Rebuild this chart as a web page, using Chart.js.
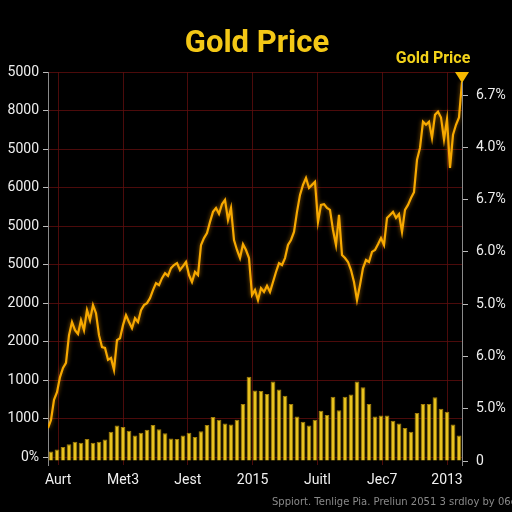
<!DOCTYPE html>
<html>
<head>
<meta charset="utf-8">
<script src="https://cdn.jsdelivr.net/npm/chart.js@4.4.0/dist/chart.umd.min.js"></script>
<style>
  html, body { margin: 0; padding: 0; background: #000; }
  #wrap { width: 512px; height: 512px; }
</style>
</head>
<body>
<div id="wrap"><canvas id="goldChart" width="512" height="512"></canvas></div>
<script>
// tick labels as printed on the chart
var leftLabels = ['0%', '1000', '1000', '2000', '2000', '5000', '5000', '6000', '5000', '8000', '5000'];
var rightLabels = ['0', '5.0%', '6.0%', '5.0%', '6.0%', '6.7%', '4.0%', '6.7%'];
var xLabels = ['Aurt', 'Met3', 'Jest', '2015', 'Juitl', 'Jec7', '2013'];

// price line, one value every half bar
var priceValues = [
  0.76, 0.97, 1.49, 1.69, 2.08, 2.32, 2.45, 3.17, 3.51, 3.30, 3.20, 3.56, 3.30, 3.82, 3.56, 3.95,
  3.74, 3.17, 2.86, 2.84, 2.53, 2.58, 2.27, 3.04, 3.09, 3.43, 3.69, 3.51, 3.35, 3.61, 3.51, 3.82,
  3.95, 4.00, 4.13, 4.34, 4.52, 4.47, 4.65, 4.78, 4.71, 4.91, 4.99, 5.04, 4.86, 4.96, 5.07, 4.73,
  4.55, 4.81, 4.73, 5.51, 5.69, 5.82, 6.11, 6.37, 6.47, 6.32, 6.57, 6.68, 6.16, 6.47, 5.64, 5.38,
  5.17, 5.53, 5.38, 5.17, 4.21, 4.34, 4.08, 4.39, 4.29, 4.45, 4.29, 4.55, 4.81, 5.04, 4.99, 5.17,
  5.51, 5.64, 5.85, 6.37, 6.81, 7.07, 7.25, 6.99, 7.07, 7.15, 6.11, 6.55, 6.57, 6.47, 6.42, 5.90,
  5.51, 6.29, 5.25, 5.17, 5.07, 4.86, 4.55, 4.08, 4.47, 4.91, 5.12, 5.07, 5.33, 5.38, 5.53, 5.69,
  5.51, 6.21, 6.29, 6.37, 6.21, 6.31, 5.85, 6.42, 6.55, 6.73, 6.88, 7.72, 8.03, 8.71, 8.63, 8.71,
  8.29, 8.89, 8.97, 8.82, 8.25, 8.77, 7.51, 8.37, 8.63, 8.82, 9.74
];

// volume bars (right axis)
var barValues = [
  0.18, 0.22, 0.27, 0.32, 0.37, 0.35, 0.42, 0.35, 0.37, 0.41, 0.56, 0.68, 0.65, 0.58, 0.49, 0.54,
  0.60, 0.69, 0.61, 0.53, 0.43, 0.42, 0.49, 0.54, 0.46, 0.57, 0.69, 0.84, 0.79, 0.72, 0.70, 0.79,
  1.09, 1.61, 1.35, 1.34, 1.28, 1.52, 1.37, 1.25, 1.09, 0.85, 0.75, 0.68, 0.79, 0.96, 0.88, 1.23,
  0.97, 1.23, 1.27, 1.52, 1.41, 1.09, 0.85, 0.87, 0.87, 0.77, 0.72, 0.63, 0.56, 0.92, 1.09, 1.09,
  1.22, 1.00, 0.94, 0.70, 0.49
];

var linePoints = priceValues.map(function(v, i) { return { x: -0.5 + i * 0.5, y: v }; });
var barPoints = barValues.map(function(v, i) { return { x: i, y: v }; });

var gridRed = 'rgba(95, 14, 14, 0.8)';

var extras = {
  id: 'extras',
  beforeDraw: function(chart) {
    var c = chart.ctx;
    c.save();
    c.fillStyle = '#000';
    c.fillRect(0, 0, chart.width, chart.height);
    c.restore();
  },
  beforeDatasetDraw: function(chart, args) {
    if (args.meta.type === 'line') {
      chart.ctx.save();
      chart.ctx.shadowColor = 'rgba(255, 160, 0, 0.6)';
      chart.ctx.shadowBlur = 4;
    }
  },
  afterDatasetDraw: function(chart, args) {
    if (args.meta.type === 'line') chart.ctx.restore();
  },
  afterDraw: function(chart) {
    var c = chart.ctx;
    var area = chart.chartArea;
    c.save();
    // title
    c.fillStyle = '#f4c816';
    c.font = 'bold 31px Roboto, "Open Sans", sans-serif';
    c.textAlign = 'center';
    c.textBaseline = 'middle';
    c.fillText('Gold Price', 257, 44);
    // marker label + arrow
    c.font = 'bold 16px Roboto, "Open Sans", sans-serif';
    c.fillStyle = '#f2d21a';
    c.fillText('Gold Price', 433, 59);
    c.fillStyle = '#f5b800';
    c.beginPath();
    c.moveTo(area.right - 7, area.top);
    c.lineTo(area.right + 7, area.top);
    c.lineTo(area.right, area.top + 11);
    c.closePath();
    c.fill();
    // source note
    c.font = '10px "DejaVu Sans", sans-serif';
    c.fillStyle = '#8a8a8a';
    c.textAlign = 'left';
    c.fillText('Sppiort. Tenlige Pia. Preliun 2051 3 srdloy by 06e', 272, 502);
    c.restore();
  }
};

new Chart(document.getElementById('goldChart'), {
  data: {
    datasets: [
      {
        type: 'line',
        label: 'Gold Price',
        data: linePoints,
        yAxisID: 'y',
        borderColor: '#f7a900',
        borderWidth: 2.2,
        pointRadius: 0,
        tension: 0,
        order: 0
      },
      {
        type: 'bar',
        label: 'Volume',
        data: barPoints,
        yAxisID: 'y1',
        backgroundColor: '#e8c21f',
        borderColor: '#a07c08',
        borderWidth: 1,
        barPercentage: 0.8,
        categoryPercentage: 1,
        order: 1
      }
    ]
  },
  options: {
    responsive: false,
    animation: false,
    layout: { padding: { top: 72, left: 0, right: 0, bottom: 0 } },
    plugins: {
      legend: { display: false },
      title: { display: false },
      tooltip: { enabled: false }
    },
    scales: {
      x: {
        type: 'linear',
        offset: false,
        min: -0.5,
        max: 68.5,
        afterBuildTicks: function(scale) {
          scale.ticks = xLabels.map(function(_, i) { return { value: 1.2 + i * 10.8 }; });
        },
        afterFit: function(scale) { scale.height = 47; },
        ticks: {
          color: '#f0f0f0',
          font: { size: 14, family: 'Roboto, "Open Sans", sans-serif' },
          padding: 7,
          maxRotation: 0,
          autoSkip: false,
          callback: function(value, index) { return xLabels[index]; }
        },
        grid: { color: gridRed, offset: false, tickLength: 0, lineWidth: 1 },
        border: { display: false }
      },
      y: {
        position: 'left',
        min: -0.2,
        max: 10,
        afterBuildTicks: function(scale) {
          scale.ticks = leftLabels.map(function(_, i) { return { value: i }; });
        },
        afterFit: function(scale) { scale.width = 48; },
        ticks: {
          color: '#eeeeee',
          font: { size: 14, family: 'Roboto, "Open Sans", sans-serif' },
          padding: 4,
          callback: function(value, index) { return leftLabels[index]; }
        },
        grid: { color: gridRed, tickColor: '#bbbbbb', tickLength: 5, lineWidth: 1 },
        border: { color: '#8a8a8a', width: 1 }
      },
      y1: {
        position: 'right',
        min: -0.076,
        max: 7.44,
        afterBuildTicks: function(scale) {
          scale.ticks = rightLabels.map(function(_, i) { return { value: i }; });
        },
        afterFit: function(scale) { scale.width = 50; },
        ticks: {
          color: '#eeeeee',
          font: { size: 14, family: 'Roboto, "Open Sans", sans-serif' },
          padding: 8,
          callback: function(value, index) { return rightLabels[index]; }
        },
        grid: { drawOnChartArea: false, tickColor: '#bbbbbb', tickLength: 6 },
        border: { color: '#8a8a8a', width: 1 }
      }
    }
  },
  plugins: [extras]
});
</script>
</body>
</html>
